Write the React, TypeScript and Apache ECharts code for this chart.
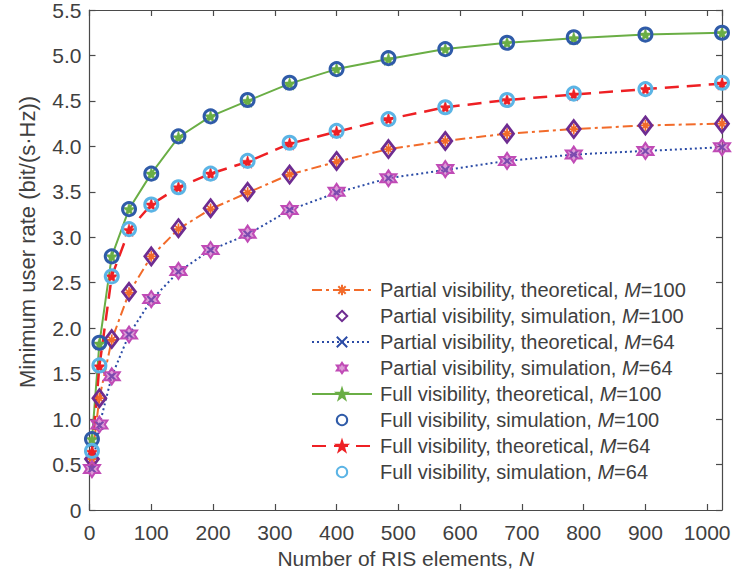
import React, { useEffect, useRef } from 'react';
import * as echarts from 'echarts';

// RIS elements N
const nValues = [4, 16, 36, 64, 100, 144, 196, 256, 324, 400, 484, 576, 676, 784, 900, 1024];
const partialTheoM100 = [0.56, 1.23, 1.87, 2.39, 2.79, 3.09, 3.31, 3.49, 3.69, 3.83, 3.97, 4.06, 4.14, 4.19, 4.23, 4.25];
const partialSimM100 = [0.56, 1.23, 1.88, 2.40, 2.79, 3.10, 3.32, 3.50, 3.69, 3.84, 3.97, 4.06, 4.14, 4.19, 4.23, 4.25];
const partialTheoM64 = [0.45, 0.93, 1.47, 1.93, 2.31, 2.62, 2.86, 3.03, 3.30, 3.49, 3.65, 3.74, 3.84, 3.91, 3.95, 3.99];
const partialSimM64 = [0.45, 0.94, 1.47, 1.93, 2.32, 2.63, 2.86, 3.04, 3.30, 3.50, 3.65, 3.75, 3.84, 3.91, 3.95, 3.99];
const fullTheoM100 = [0.78, 1.83, 2.79, 3.31, 3.70, 4.10, 4.33, 4.50, 4.69, 4.85, 4.96, 5.07, 5.14, 5.19, 5.23, 5.25];
const fullSimM100 = [0.78, 1.84, 2.79, 3.31, 3.70, 4.11, 4.33, 4.51, 4.70, 4.85, 4.97, 5.07, 5.14, 5.20, 5.23, 5.25];
const fullTheoM64 = [0.64, 1.58, 2.57, 3.08, 3.36, 3.55, 3.70, 3.83, 4.03, 4.16, 4.30, 4.43, 4.51, 4.57, 4.63, 4.69];
const fullSimM64 = [0.65, 1.59, 2.57, 3.09, 3.36, 3.55, 3.70, 3.84, 4.04, 4.17, 4.30, 4.43, 4.51, 4.58, 4.63, 4.70];

const seriesNames = [
  'Partial visibility, theoretical, M=100',
  'Partial visibility, simulation, M=100',
  'Partial visibility, theoretical, M=64',
  'Partial visibility, simulation, M=64',
  'Full visibility, theoretical, M=100',
  'Full visibility, simulation, M=100',
  'Full visibility, theoretical, M=64',
  'Full visibility, simulation, M=64',
];

const xTicks = { min: 0, max: 1024, interval: 100 };
const yTicks = { min: 0, max: 5.5, interval: 0.5 };

const FONT = '"Liberation Sans", Arial, Helvetica, sans-serif';
const TXT = '#404040';
const AX = '#4a4a4a';

function starPath(points: number, rOuter: number, rInner: number): string {
  let d = '';
  for (let i = 0; i < points * 2; i++) {
    const r = i % 2 === 0 ? rOuter : rInner;
    const a = -Math.PI / 2 + (i * Math.PI) / points;
    const x = (r * Math.cos(a)).toFixed(3);
    const y = (r * Math.sin(a)).toFixed(3);
    d += (i === 0 ? 'M' : 'L') + x + ',' + y;
  }
  return 'path://' + d + 'Z';
}

const asterisk = 'path://M0,-10L0,10M-10,0L10,0M-7.07,-7.07L7.07,7.07M-7.07,7.07L7.07,-7.07';
const crossX = 'path://M-10,-10L10,10M-10,10L10,-10';
const pentagram = starPath(5, 10, 3.9);
const hexagram = starPath(6, 10, 5.77);

function pairs(ys: number[]) {
  return nValues.map((n, i) => [n, ys[i]]);
}

const axisLineStyle = { show: true, onZero: false, lineStyle: { color: AX, width: 1.2 } };
const axisTickStyle = { show: true, inside: true, length: 6, lineStyle: { color: AX, width: 1.2 } };

export default function App() {
  const ref = useRef<HTMLDivElement>(null);
  useEffect(() => {
    if (!ref.current) return;
    const chart = echarts.init(ref.current, undefined, { renderer: 'svg' });
    const lineSeries = (
      name: string,
      ys: number[],
      color: string,
      lineType: any,
      lineWidth: number,
      symbol: string,
      symbolSize: any,
      itemStyle: any,
      showLine: boolean
    ) => ({
      type: 'line',
      name,
      data: pairs(ys),
      symbol,
      symbolSize,
      showSymbol: true,
      showAllSymbol: true,
      smooth: false,
      lineStyle: { color, type: lineType, width: lineWidth, opacity: showLine ? 1 : 0 },
      itemStyle,
      emphasis: { disabled: true },
      z: 2,
    });

    const option: any = {
      animation: false,
      backgroundColor: '#ffffff',
      textStyle: { fontFamily: FONT },
      grid: { left: 89.5, right: 25, top: 10, bottom: 65, containLabel: false, outerBoundsMode: 'none' },
      legend: {
        orient: 'vertical',
        left: 306,
        top: 274,
        itemWidth: 60,
        itemHeight: 13,
        itemGap: 4,
        selectedMode: false,
        data: seriesNames,
        formatter: (name: string) => name.replace('M=', '{i|M}='),
        textStyle: {
          fontFamily: FONT,
          fontSize: 20,
          color: TXT,
          lineHeight: 22,
          padding: [0, 0, 0, 3],
          rich: {
            i: { fontStyle: 'italic', fontFamily: FONT, fontSize: 20, color: TXT, lineHeight: 22 },
          },
        },
      },
      xAxis: [
        {
          type: 'value',
          position: 'bottom',
          ...xTicks,
          name: 'Number of RIS elements, {i|N}',
          nameLocation: 'middle',
          nameGap: 38,
          nameTextStyle: {
            fontFamily: FONT,
            fontSize: 21,
            color: TXT,
            rich: { i: { fontStyle: 'italic', fontFamily: FONT, fontSize: 21, color: TXT } },
          },
          axisLine: axisLineStyle,
          axisTick: axisTickStyle,
          axisLabel: {
            show: true,
            margin: 12,
            fontFamily: FONT,
            fontSize: 21,
            color: TXT,
            showMaxLabel: false,
            formatter: (v: number) => (v % 100 === 0 ? String(v) : ''),
          },
          splitLine: { show: false },
        },
        {
          type: 'value',
          position: 'top',
          ...xTicks,
          axisLine: axisLineStyle,
          axisTick: axisTickStyle,
          axisLabel: { show: false },
          splitLine: { show: false },
        },
      ],
      yAxis: [
        {
          type: 'value',
          position: 'left',
          ...yTicks,
          name: 'Minimum user rate (bit/(s·Hz))',
          nameLocation: 'middle',
          nameGap: 51,
          nameTextStyle: {
            fontFamily: FONT,
            fontSize: 22,
            color: TXT,
            padding: [0, 0, 0, 36],
          },
          axisLine: axisLineStyle,
          axisTick: axisTickStyle,
          axisLabel: {
            show: true,
            margin: 8,
            fontFamily: FONT,
            fontSize: 21,
            color: TXT,
            formatter: (v: number) => (v === 0 ? '0' : v.toFixed(1)),
          },
          splitLine: { show: false },
        },
        {
          type: 'value',
          position: 'right',
          ...yTicks,
          axisLine: axisLineStyle,
          axisTick: axisTickStyle,
          axisLabel: { show: false },
          splitLine: { show: false },
        },
      ],
      series: [
        lineSeries(seriesNames[0], partialTheoM100, '#F26B2A', [10, 4, 3, 4], 2, asterisk, 11,
          { color: '#F26B2A', borderColor: '#F26B2A', borderWidth: 1.8 }, true),
        lineSeries(seriesNames[1], partialSimM100, '#6E2C91', 'solid', 0, 'diamond', [13, 17],
          { color: 'rgba(0,0,0,0)', borderColor: '#6E2C91', borderWidth: 2.8 }, false),
        lineSeries(seriesNames[2], partialTheoM64, '#2B4BA6', [2, 3], 2, crossX, 8,
          { color: '#2B4BA6', borderColor: '#2B4BA6', borderWidth: 2.2 }, true),
        lineSeries(seriesNames[3], partialSimM64, '#C04BB6', 'solid', 0, hexagram, 16,
          { color: 'rgba(192,75,182,0.55)', borderColor: '#C04BB6', borderWidth: 2 }, false),
        lineSeries(seriesNames[4], fullTheoM100, '#6AAE45', 'solid', 2, pentagram, 13,
          { color: '#6AAE45', borderColor: '#6AAE45', borderWidth: 0.5 }, true),
        lineSeries(seriesNames[5], fullSimM100, '#2F5BA8', 'solid', 0, 'circle', 13,
          { color: 'rgba(0,0,0,0)', borderColor: '#2F5BA8', borderWidth: 3 }, false),
        lineSeries(seriesNames[6], fullTheoM64, '#EE2024', [14, 8], 2.5, pentagram, 13,
          { color: '#EE2024', borderColor: '#EE2024', borderWidth: 0.5 }, true),
        lineSeries(seriesNames[7], fullSimM64, '#5BB4E5', 'solid', 0, 'circle', 13,
          { color: 'rgba(0,0,0,0)', borderColor: '#5BB4E5', borderWidth: 3 }, false),
      ],
    };
    chart.setOption(option);
    return () => chart.dispose();
  }, []);
  return (
    <div
      ref={ref}
      style={{ position: 'absolute', left: 0, top: 0, width: 747, height: 575, background: '#fff' }}
    />
  );
}
